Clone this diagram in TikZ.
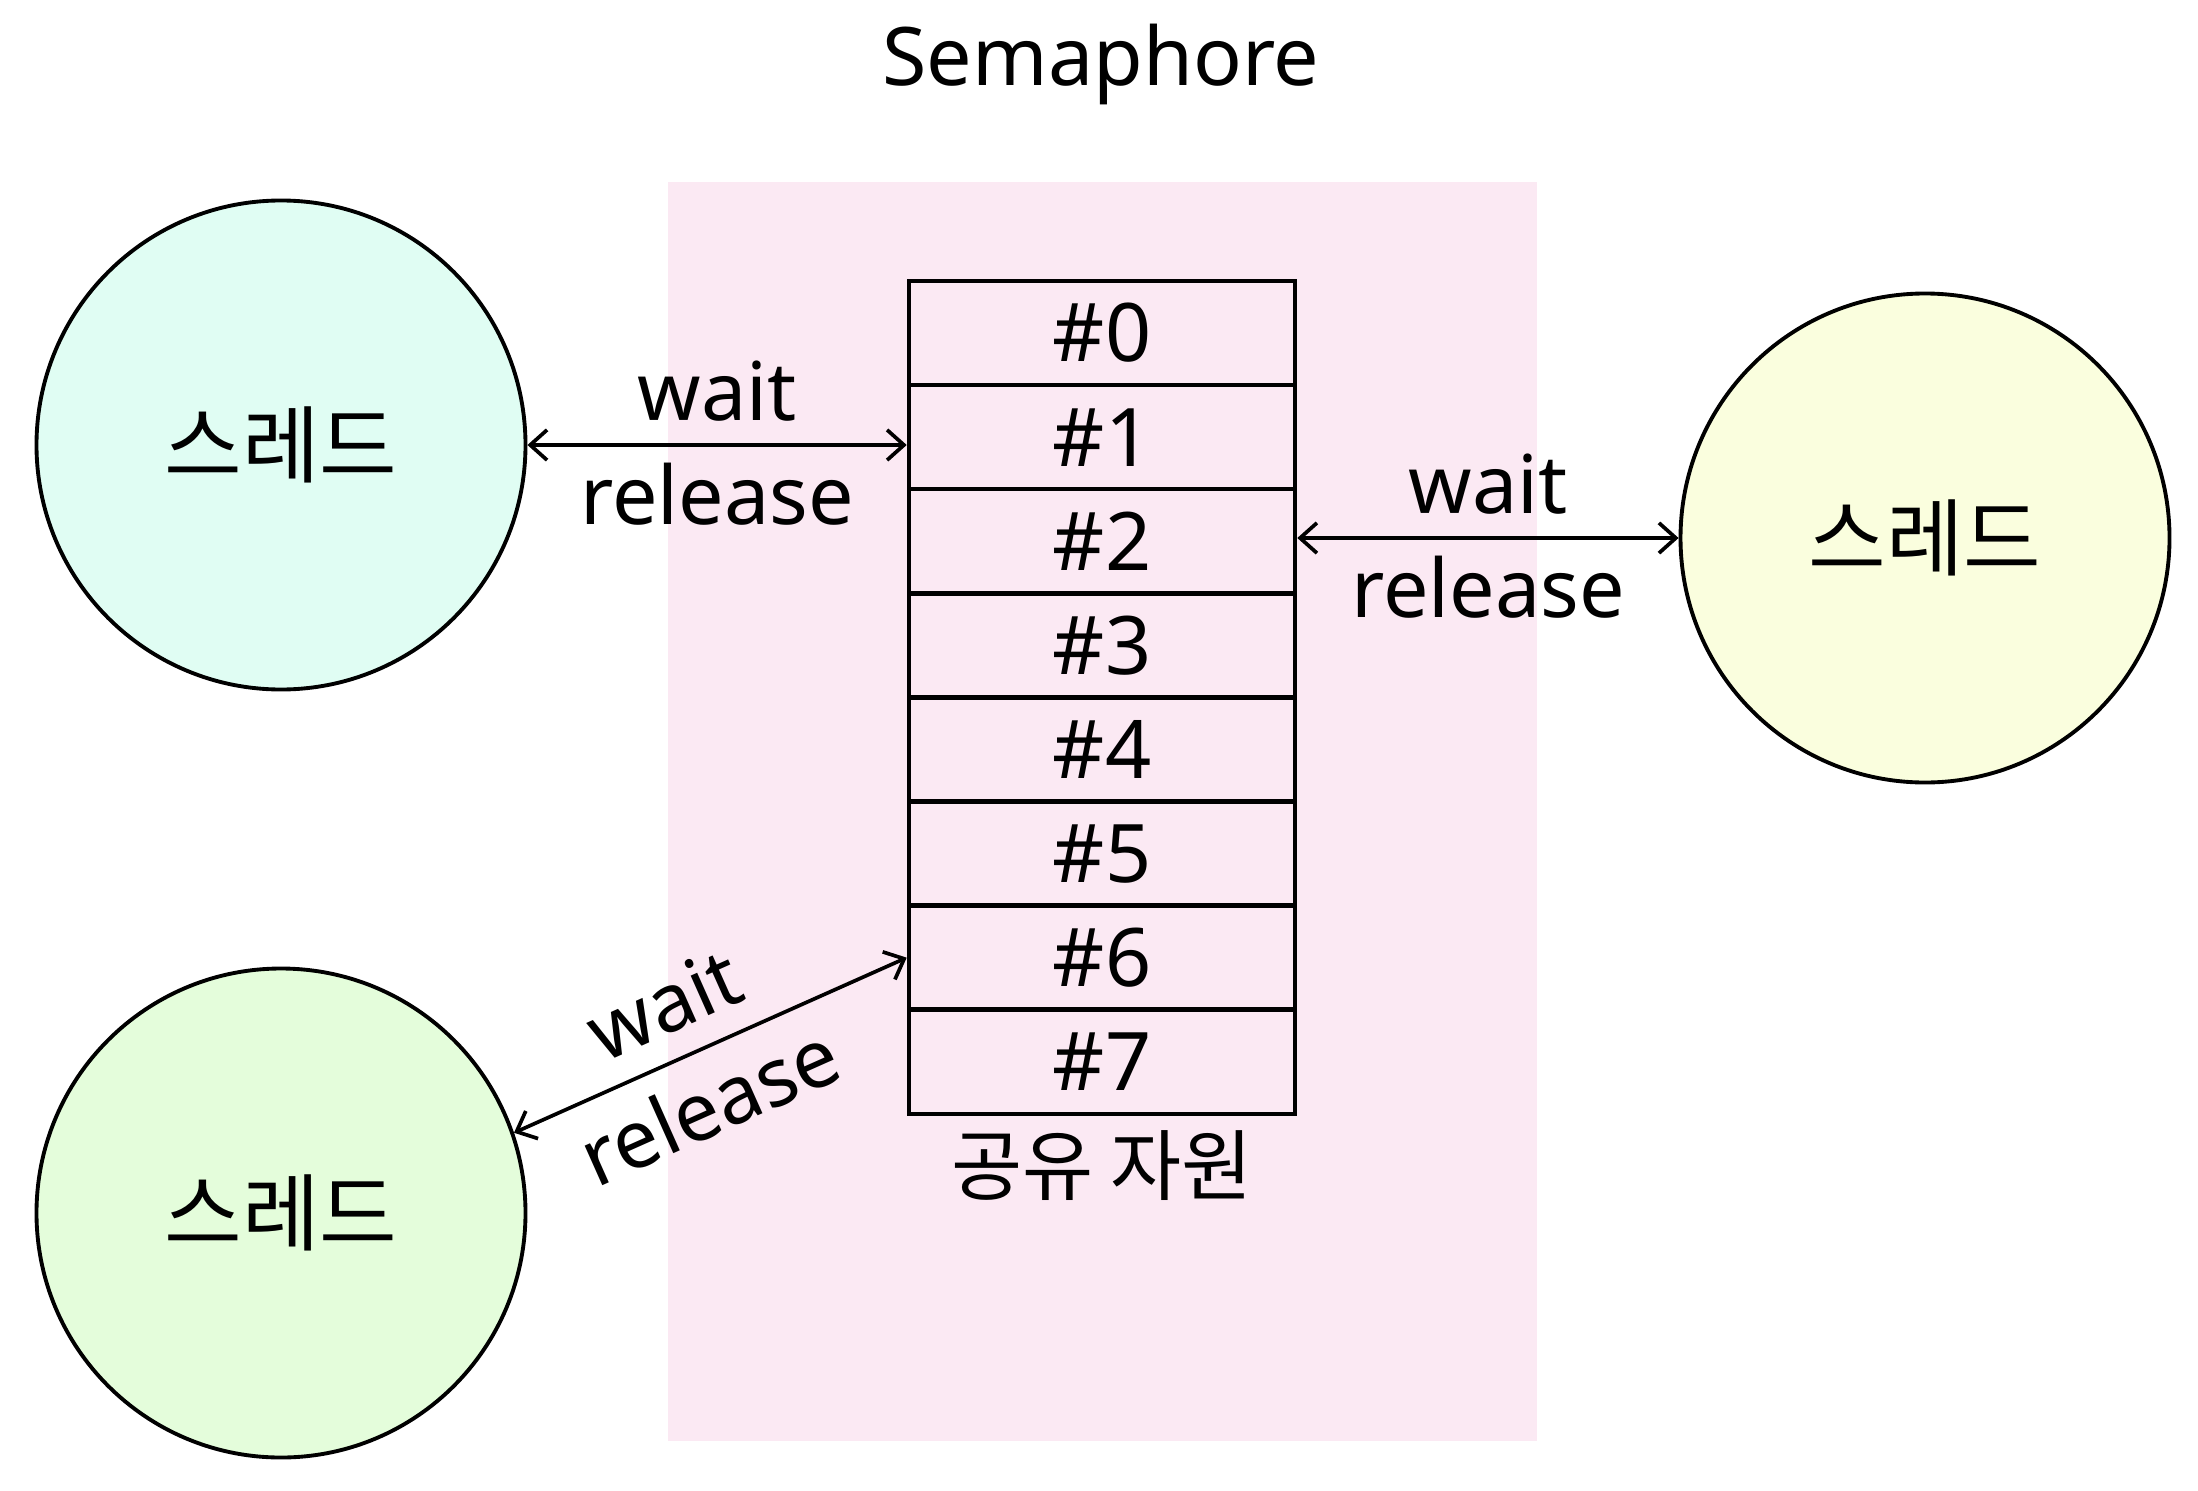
\documentclass[tikz,border=0pt]{standalone}
\usepackage{fontspec}
\setmainfont{Noto Sans}
\newfontfamily\krfont{Noto Sans CJK KR}
\usetikzlibrary{arrows.meta, positioning, calc}

\definecolor{zonepink}{HTML}{FBE9F3}
\definecolor{mint}{HTML}{E0FDF3}
\definecolor{lemon}{HTML}{FAFEDE}
\definecolor{lime}{HTML}{E4FDDB}

\begin{document}
\begin{tikzpicture}[
    thread/.style={circle, draw=black, line width=1.1pt, minimum size=4.89cm, inner sep=0pt, font=\krfont\fontsize{24}{28}\selectfont},
    slot/.style={rectangle, draw=black, line width=1.3pt, minimum width=3.86cm, minimum height=1.041cm, inner sep=0pt, font=\fontsize{23}{27}\selectfont},
    doublearrow/.style={{Straight Barb[length=4.8pt, width=8.6pt]}-{Straight Barb[length=4.8pt, width=8.6pt]}, line width=1.05pt},
    op_label/.style={font=\fontsize{23}{27}\selectfont, inner sep=0pt},
    title_label/.style={font=\fontsize{23}{27}\selectfont, inner sep=0pt},
    res_label/.style={font=\krfont\fontsize{22}{26}\selectfont, inner sep=0pt}
]
    \useasboundingbox (0,0) rectangle (21.98,-14.90);

    % ========== SHARED RESOURCE ==========
    \fill[zonepink] (6.68,-1.82) rectangle (15.37,-14.41);

    % Title
    \node[title_label, anchor=base] (title) at (11.01,-0.86) {Semaphore};

    % Slots #0 .. #7
    \foreach \i in {0,...,7} {
        \node[slot] (c\i) at (11.02,{-3.3305-1.041*\i}) {\#\i};
    }
    \node[res_label, below=0.14cm of c7] (res) {공유 자원};

    % ========== THREADS ==========
    \node[thread, fill=mint] (tl) at (2.81,-4.45) {스레드};
    \node[thread, fill=lemon] (rc) at (19.25,-5.38) {스레드};
    \node[thread, fill=lime] (bl) at (2.81,-12.13) {스레드};

    % wait / release
    \draw[doublearrow] (tl.east) -- (tl.east -| c1.west)
        node[op_label, midway, above=6.3pt] {wait}
        node[op_label, midway, below=4.5pt] {release};
    \draw[doublearrow] (c2.east |- rc.west) -- (rc.west)
        node[op_label, midway, above=6.3pt] {wait}
        node[op_label, midway, below=4.5pt] {release};
    \draw[doublearrow] (bl.19) -- (c6.west)
        node[op_label, pos=0.44, sloped, above=7pt] {wait}
        node[op_label, pos=0.44, sloped, below=6pt] {release};

\end{tikzpicture}
\end{document}
